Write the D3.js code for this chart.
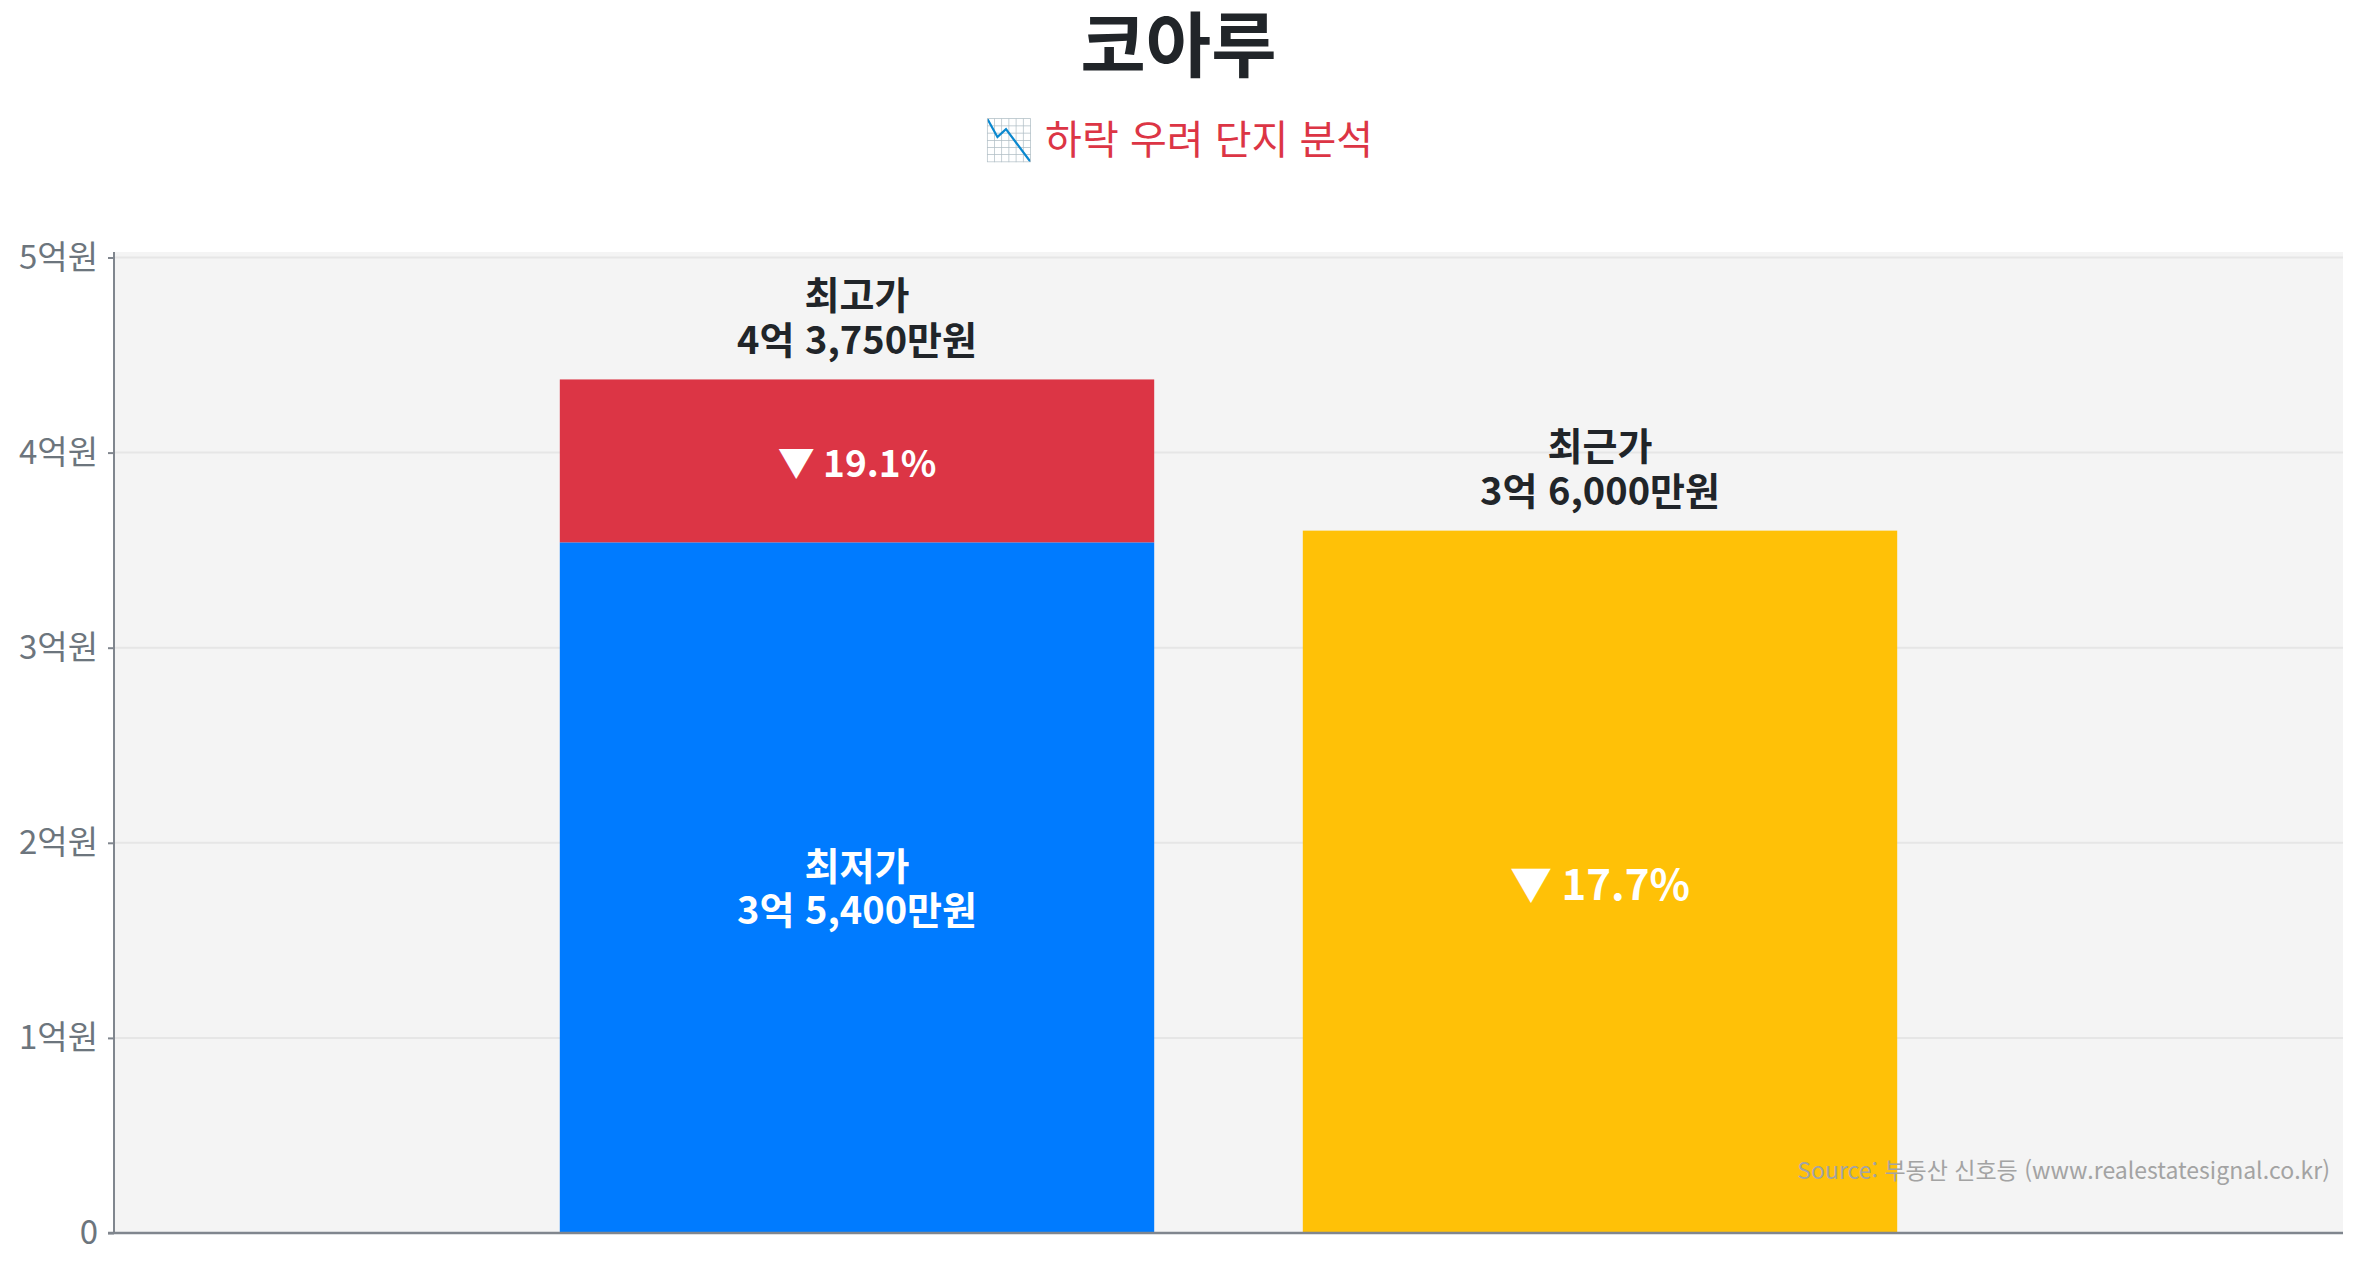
<!DOCTYPE html>
<html lang="ko">
<head>
<meta charset="utf-8">
<script src="https://cdn.jsdelivr.net/npm/d3@7"></script>
<style>
    body { margin: 0; background: #ffffff; }
    svg text { font-family: "Noto Sans CJK KR", "Noto Sans", sans-serif; }
</style>
</head>
<body>
<svg id="chart"></svg>
<script>
// values in 만원
const complexName = "코아루";
const subtitle = "📉 하락 우려 단지 분석";
const highestPrice = 43750;
const lowestPrice = 35400;
const recentPrice = 36000;
const yTicks = [0, 10000, 20000, 30000, 40000, 50000];
const yTickLabels = ["0", "1억원", "2억원", "3억원", "4억원", "5억원"];
const groups = ["과거", "최근"];
const sourceText = "Source: 부동산 신호등 (www.realestatesignal.co.kr)";

const width = 2357;
const height = 1268;
const margin = { top: 252, right: 14, bottom: 35, left: 114 };
const innerWidth = width - margin.left - margin.right;
const innerHeight = height - margin.top - margin.bottom;

const blue = "#007bff";
const red = "#dc3545";
const yellow = "#ffc107";
const dark = "#212529";
const axisColor = "#80868e";

const formatPrice = v => {
    const eok = Math.floor(v / 10000);
    const man = v % 10000;
    return man ? `${eok}억 ${d3.format(",")(man)}만원` : `${eok}억원`;
};
const formatDrop = v => "▼ " + d3.format(".1%")(v);

const svg = d3.select("#chart")
    .attr("width", width)
    .attr("height", height);

svg.append("text")
    .attr("x", width / 2)
    .attr("y", 40)
    .attr("text-anchor", "middle")
    .attr("dominant-baseline", "central")
    .attr("font-size", 71)
    .attr("font-weight", 700)
    .attr("fill", dark)
    .text(complexName);

svg.append("text")
    .attr("x", width / 2)
    .attr("y", 137)
    .attr("text-anchor", "middle")
    .attr("dominant-baseline", "central")
    .attr("font-size", 40)
    .attr("fill", red)
    .text(subtitle);

const xScale = d3.scaleBand()
    .domain(groups)
    .range([0, innerWidth])
    .paddingInner(0.2)
    .paddingOuter(0.6);

const yScale = d3.scaleLinear()
    .domain([0, 50000])
    .range([innerHeight, 5.5]);

const inner = svg.append("g")
    .attr("transform", `translate(${margin.left},${margin.top})`);

// plot background
inner.append("rect")
    .attr("width", innerWidth)
    .attr("height", innerHeight)
    .attr("fill", "#f4f4f4");

// gridlines
inner.selectAll(".grid")
    .data(yTicks.filter(d => d > 0))
    .join("line")
    .attr("class", "grid")
    .attr("x1", 0)
    .attr("x2", innerWidth)
    .attr("y1", d => yScale(d))
    .attr("y2", d => yScale(d))
    .attr("stroke", "#e6e6e6")
    .attr("stroke-width", 2);

// stacked segments
const segments = [
    { group: groups[0], y0: 0, y1: lowestPrice, color: blue },
    { group: groups[0], y0: lowestPrice, y1: highestPrice, color: red },
    { group: groups[1], y0: 0, y1: recentPrice, color: yellow }
];

inner.selectAll(".bar")
    .data(segments)
    .join("rect")
    .attr("class", "bar")
    .attr("x", d => xScale(d.group))
    .attr("y", d => yScale(d.y1))
    .attr("width", xScale.bandwidth())
    .attr("height", d => yScale(d.y0) - yScale(d.y1))
    .attr("fill", d => d.color);

// y axis
const yAxis = inner.append("g")
    .call(d3.axisLeft(yScale)
        .tickValues(yTicks)
        .tickFormat((d, i) => yTickLabels[i])
        .tickSize(6)
        .tickSizeOuter(0)
        .tickPadding(10));

yAxis.select(".domain").remove();
yAxis.selectAll(".tick line").attr("stroke", axisColor).attr("stroke-width", 2);
yAxis.selectAll(".tick text")
    .attr("font-size", 33)
    .attr("fill", "#6c757d")
    .attr("font-family", "\"Noto Sans CJK KR\", \"Noto Sans\", sans-serif");

inner.append("line")
    .attr("x1", 0).attr("x2", 0)
    .attr("y1", 0).attr("y2", innerHeight)
    .attr("stroke", axisColor)
    .attr("stroke-width", 2);

inner.append("line")
    .attr("x1", -6).attr("x2", innerWidth)
    .attr("y1", innerHeight).attr("y2", innerHeight)
    .attr("stroke", axisColor)
    .attr("stroke-width", 2.5);

// labels above bars
const topLabels = [
    { group: groups[0], title: "최고가", value: highestPrice },
    { group: groups[1], title: "최근가", value: recentPrice }
];

topLabels.forEach(d => {
    const cx = xScale(d.group) + xScale.bandwidth() / 2;
    const top = yScale(d.value);
    [d.title, formatPrice(d.value)].forEach((line, i) => {
        inner.append("text")
            .attr("x", cx)
            .attr("y", top - 87 + i * 45)
            .attr("text-anchor", "middle")
            .attr("dominant-baseline", "central")
            .attr("font-size", 38)
            .attr("font-weight", 700)
            .attr("fill", dark)
            .text(line);
    });
});

// labels inside bars
const cx0 = xScale(groups[0]) + xScale.bandwidth() / 2;
const cx1 = xScale(groups[1]) + xScale.bandwidth() / 2;

inner.append("text")
    .attr("x", cx0)
    .attr("y", (yScale(lowestPrice) + yScale(highestPrice)) / 2)
    .attr("text-anchor", "middle")
    .attr("dominant-baseline", "central")
    .attr("font-size", 37)
    .attr("font-weight", 700)
    .attr("fill", "#ffffff")
    .text(formatDrop((highestPrice - lowestPrice) / highestPrice));

const blueMid = (yScale(0) + yScale(lowestPrice)) / 2;
["최저가", formatPrice(lowestPrice)].forEach((line, i) => {
    inner.append("text")
        .attr("x", cx0)
        .attr("y", blueMid - 24 + i * 44)
        .attr("text-anchor", "middle")
        .attr("dominant-baseline", "central")
        .attr("font-size", 38)
        .attr("font-weight", 700)
        .attr("fill", "#ffffff")
        .text(line);
});

inner.append("text")
    .attr("x", cx1)
    .attr("y", (yScale(0) + yScale(recentPrice)) / 2)
    .attr("text-anchor", "middle")
    .attr("dominant-baseline", "central")
    .attr("font-size", 42)
    .attr("font-weight", 700)
    .attr("fill", "#ffffff")
    .text(formatDrop((highestPrice - recentPrice) / highestPrice));

// source note
inner.append("text")
    .attr("x", innerWidth - 13)
    .attr("y", 1169 - margin.top)
    .attr("text-anchor", "end")
    .attr("dominant-baseline", "central")
    .attr("font-size", 23)
    .attr("fill", "#a3a3a3")
    .text(sourceText);
</script>
</body>
</html>
